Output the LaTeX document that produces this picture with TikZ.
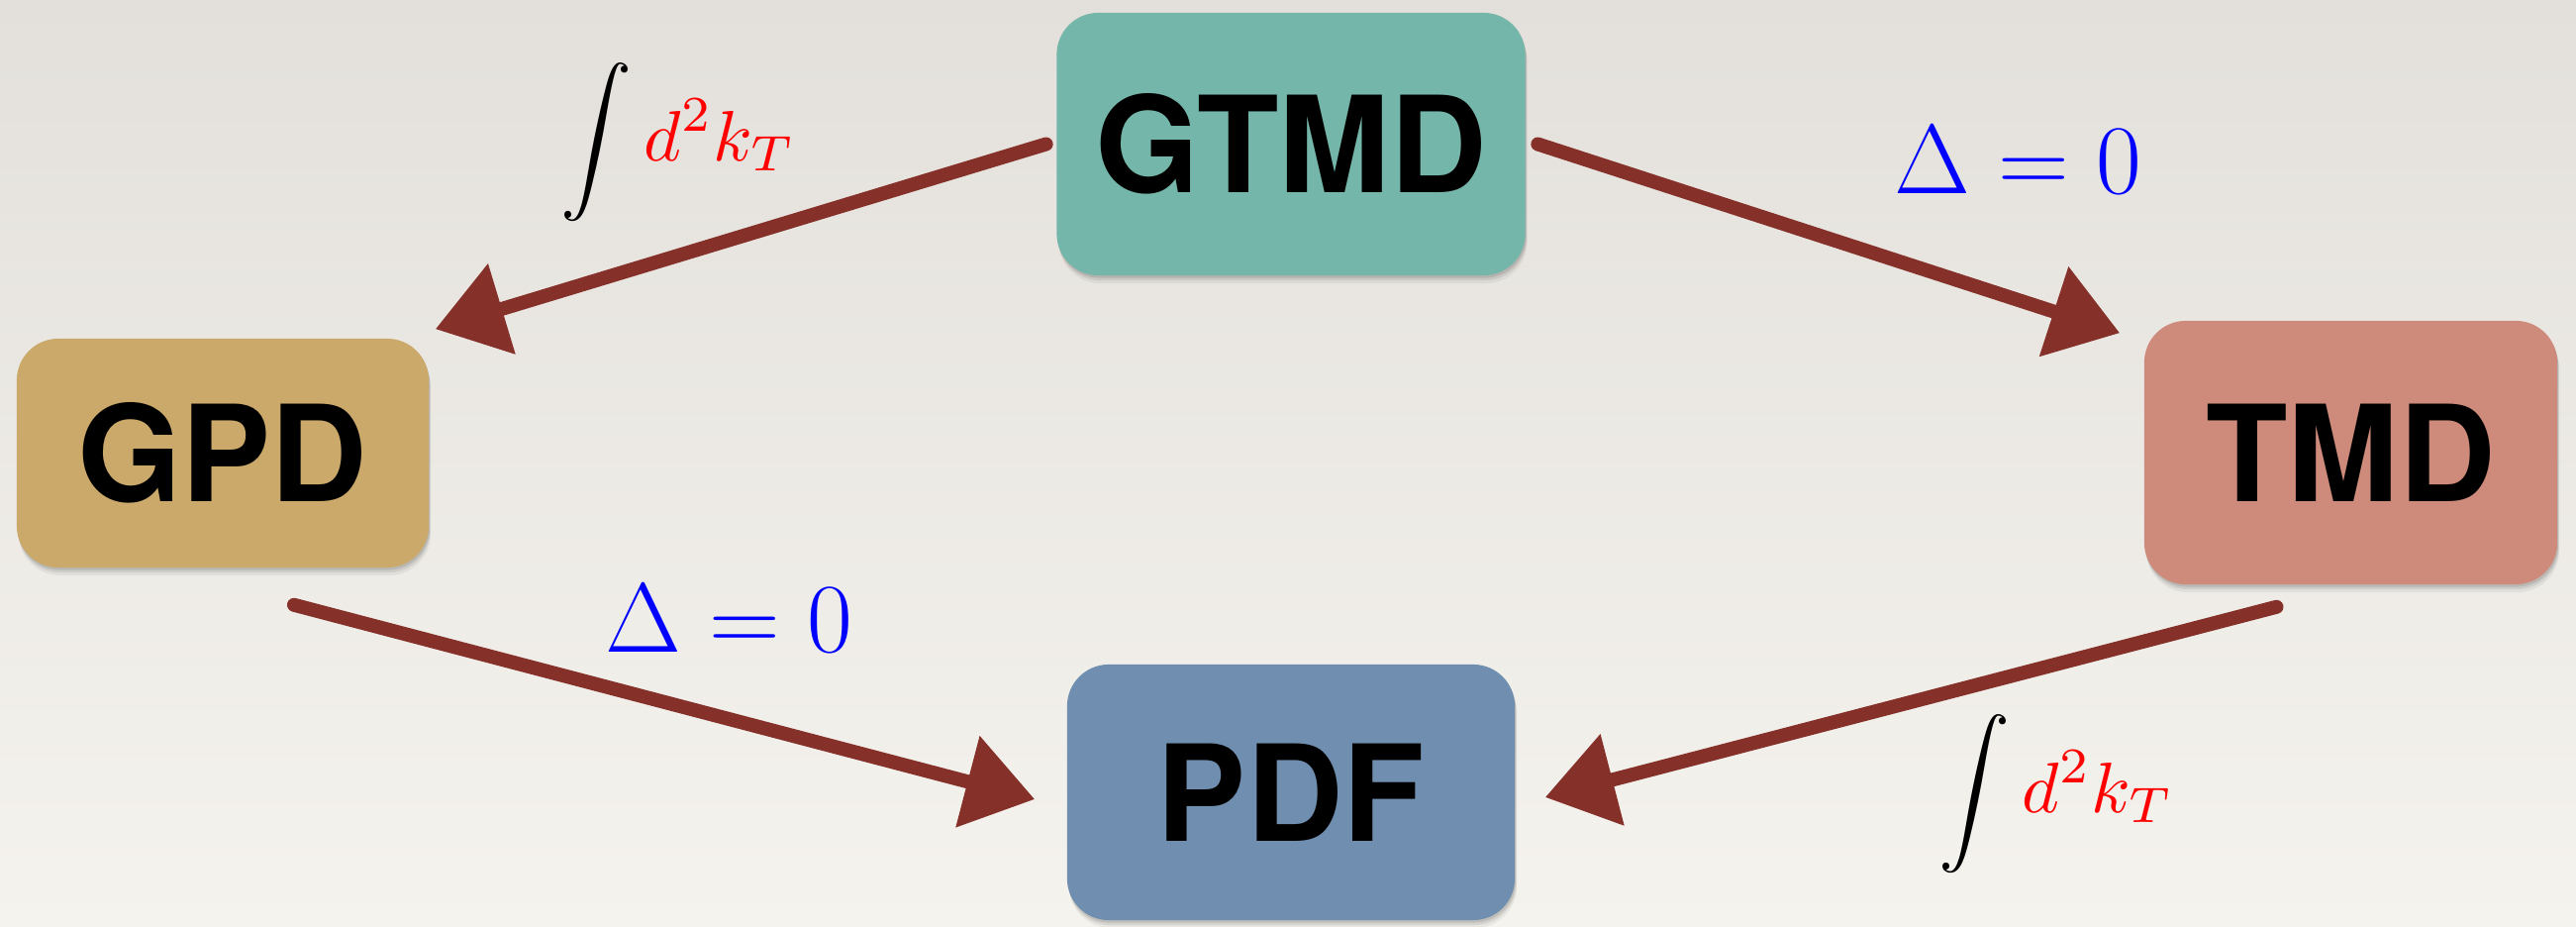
\documentclass[tikz,border=0pt]{standalone}
\usepackage{fix-cm}
\usepackage{graphicx}
\usepackage{fontspec}
\newfontfamily\heros{TeX Gyre Heros}
\usetikzlibrary{arrows.meta,calc,shadows}
\definecolor{gtmdc}{HTML}{74B6A9}
\definecolor{gpdc}{HTML}{CBA96A}
\definecolor{tmdc}{HTML}{CE8A7A}
\definecolor{pdfc}{HTML}{708EAF}
\definecolor{arrc}{HTML}{86302A}
\definecolor{bgtop}{HTML}{E3E0DB}
\definecolor{bgbot}{HTML}{F5F3EE}
\newcommand{\intlabel}{\scalebox{2.05}{$\displaystyle\int \textcolor{red}{d^2k_T}$}}
\begin{document}
\begin{tikzpicture}[x=0.01cm,y=-0.01cm,
  box/.style={rounded corners=0.42cm, inner sep=0pt, text=black,
    font=\heros\bfseries\fontsize{38.4pt}{40pt}\selectfont,
    general shadow={fill=black,opacity=0.05,shadow yshift=-0.08cm,shadow xshift=0.02cm},
    general shadow={fill=black,opacity=0.08,shadow yshift=-0.05cm,shadow xshift=0.015cm},
    general shadow={fill=black,opacity=0.10,shadow yshift=-0.025cm,shadow xshift=0.01cm}},
  arr/.style={draw=arrc, line width=0.14cm, line cap=round,
    -{Triangle[length=0.7cm,width=0.92cm]}},
  intlab/.style={anchor=base west, inner sep=0pt},
  dellab/.style={anchor=base west, inner sep=0pt, text=blue, font=\fontsize{28.3pt}{32pt}\selectfont}
  ]
\useasboundingbox (0,0) rectangle (2602,936);
\fill[top color=bgtop, bottom color=bgbot] (0,0) rectangle (2602,936);

\node[box, fill=gtmdc, minimum width=4.73cm, minimum height=2.65cm] (gtmd) at (1304,145.5) {GTMD};
\node[box, fill=gpdc, minimum width=4.16cm, minimum height=2.31cm] (gpd) at (225,457.5) {GPD};
\node[box, fill=tmdc, minimum width=4.17cm, minimum height=2.66cm] (tmd) at (2374.5,457) {TMD};
\node[box, fill=pdfc, minimum width=4.52cm, minimum height=2.58cm] (pdf) at (1304,800) {PDF};

\draw[arr] ($(gtmd.west)+(-10,0)$) -- ($(gpd.north east)+(6,-9)$);
\draw[arr] ($(gtmd.east)+(12,0)$) -- ($(tmd.north west)+(-24,13)$);
\draw[arr] ($(gpd.south)+(72,37)$) -- ($(pdf.west)+(-32,7)$);
\draw[arr] ($(tmd.south)+(-75,22)$) -- ($(pdf.east)+(30,5)$);

\node[intlab] (l1) at (566,162) {\intlabel};
\node[intlab] (l2) at (1958,820) {\intlabel};
\node[dellab] (l3) at (611,658) {$\Delta = 0$};
\node[dellab] (l4) at (1913,195) {$\Delta = 0$};
\end{tikzpicture}
\end{document}
